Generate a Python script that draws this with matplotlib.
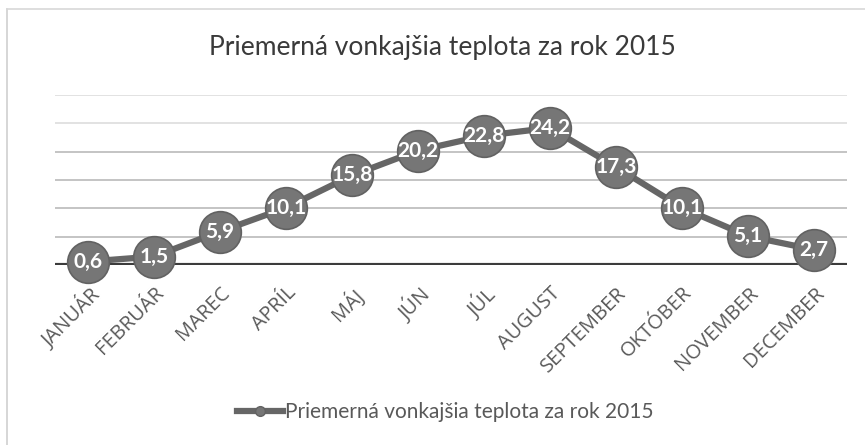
import matplotlib
matplotlib.use('Agg')
import matplotlib.pyplot as plt
from matplotlib.lines import Line2D

plt.rcParams['font.family'] = ['Lato', 'DejaVu Sans']

months = ['JANUÁR', 'FEBRUÁR', 'MAREC', 'APRÍL', 'MÁJ', 'JÚN', 'JÚL',
          'AUGUST', 'SEPTEMBER', 'OKTÓBER', 'NOVEMBER', 'DECEMBER']
temps = [0.6, 1.5, 5.9, 10.1, 15.8, 20.2, 22.8, 24.2, 17.3, 10.1, 5.1, 2.7]
grid_vals = [5, 10, 15, 20, 25, 30]
title = 'Priemerná vonkajšia teplota za rok 2015'

fig = plt.figure(figsize=(8.65, 4.45), dpi=100)
ax = fig.add_axes([55 / 865, 180 / 445, 792 / 865, 170 / 445])

# chart frame (only top/left visible in the scan)
fig.add_artist(Line2D([7 / 865, 7 / 865], [0, 1 - 9 / 445], transform=fig.transFigure,
                      color='#d0d0d0', lw=1.2))
fig.add_artist(Line2D([7 / 865, 1], [1 - 9 / 445, 1 - 9 / 445], transform=fig.transFigure,
                      color='#d8d8d8', lw=1.2))

for g in grid_vals:
    ax.axhline(g, color='#c4c4c4' if g < 25 else '#e2e2e2', lw=1.4, zorder=1)
ax.axhline(0, color='#3c3c3c', lw=3, zorder=2)

x = list(range(len(months)))
ax.plot(x, temps, color='#666666', lw=4.5, marker='o', markersize=30,
        markerfacecolor='#767676', markeredgecolor='#626262', markeredgewidth=1.2,
        zorder=3, clip_on=False)
for i, v in enumerate(temps):
    ax.text(i, v, f'{v:.1f}'.replace('.', ','), ha='center', va='center',
            color='white', fontsize=15, fontweight='bold', zorder=4)

ax.set_xlim(-0.5, 11.5)
ax.set_ylim(0, 30)
ax.set_yticks([])
ax.set_xticks(x)
ax.set_xticklabels(months, rotation=45, ha='right', rotation_mode='anchor',
                   fontsize=14.5, color='#5a5a5a')
for lbl in ax.get_xticklabels():
    lbl.set_fontfamily(['Open Sans', 'DejaVu Sans'])
ax.tick_params(axis='x', length=0, pad=13)
for s in ax.spines.values():
    s.set_visible(False)

fig.text(442 / 865, 1 - 47 / 445, title, ha='center', va='center',
         fontsize=19, color='#3a3a3a')

handle = Line2D([], [], color='#666666', lw=4.5, marker='o', markersize=7,
                markerfacecolor='#767676', markeredgecolor='#626262')
fig.legend([handle], [title], loc='center', bbox_to_anchor=(445 / 865, 1 - 412 / 445),
           frameon=False, fontsize=15, labelcolor='#595959', handlelength=2.2,
           handletextpad=0.1)

fig.savefig('out.png', dpi=100)
